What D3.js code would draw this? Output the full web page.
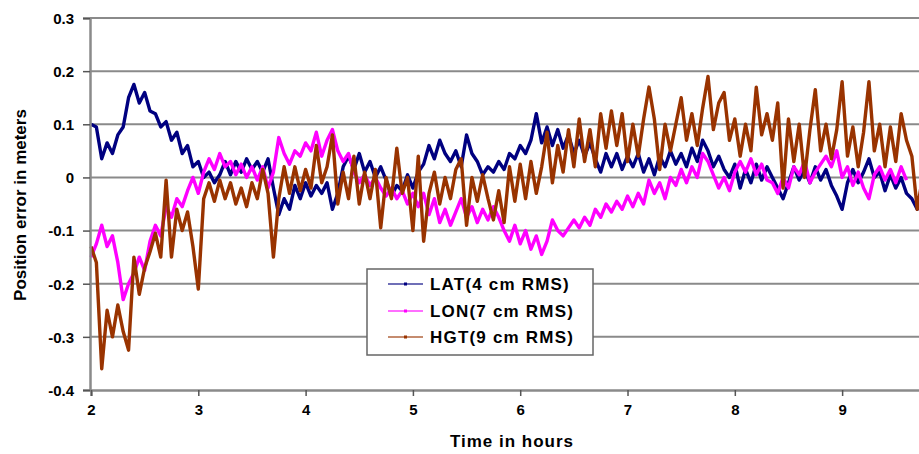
<!DOCTYPE html>
<html>
<head>
<meta charset="utf-8">
<script src="https://cdn.jsdelivr.net/npm/d3@7"></script>
<style>
  html, body { margin: 0; padding: 0; background: #fff; }
  svg { display: block; }
  text { font-family: Arial, "Liberation Sans", sans-serif; font-weight: bold; fill: #000; }
</style>
</head>
<body>
<script>
// Sampling: one reading every 0.05 h starting at 2 h
const startHour = 2;
const stepHour = 0.05;

const xTicks = [2, 3, 4, 5, 6, 7, 8, 9];
const yTicks = [-0.4, -0.3, -0.2, -0.1, 0, 0.1, 0.2, 0.3];
const yTickLabels = ["-0.4", "-0.3", "-0.2", "-0.1", "0", "0.1", "0.2", "0.3"];

const seriesNames = ["LAT(4 cm RMS)", "LON(7 cm RMS)", "HGT(9 cm RMS)"];
const seriesColors = ["#000080", "#ff00ff", "#993300"];

// Position error (m)
const lat = [
  0.100,0.095,0.035,0.065,0.045,0.080,0.095,0.150,0.175,0.140,
  0.160,0.125,0.120,0.095,0.105,0.070,0.085,0.045,0.060,0.020,
  0.030,0.000,0.010,-0.010,0.005,0.030,0.005,0.030,0.010,0.035,
  0.015,0.030,0.010,0.035,-0.020,-0.070,-0.040,-0.060,-0.015,-0.040,
  -0.010,-0.035,-0.015,-0.030,-0.010,-0.060,-0.030,0.020,0.040,0.015,
  0.045,0.010,0.030,0.000,0.020,-0.005,-0.035,-0.015,-0.025,0.005,
  -0.020,0.010,0.025,0.060,0.035,0.070,0.045,0.030,0.050,0.020,
  0.080,0.045,0.030,0.005,0.020,0.010,0.030,0.015,0.045,0.035,
  0.060,0.045,0.070,0.120,0.065,0.095,0.060,0.090,0.055,0.080,
  0.045,0.070,0.040,0.065,0.035,0.010,0.045,0.020,0.045,0.015,
  0.040,0.020,0.045,0.010,0.035,0.005,0.040,0.020,0.050,0.025,
  0.045,0.020,0.055,0.030,0.070,0.050,0.020,0.040,0.015,0.000,
  0.025,-0.020,0.015,-0.010,0.025,-0.005,0.020,0.000,-0.020,-0.040,
  -0.010,0.020,-0.005,0.015,-0.010,0.020,-0.005,0.015,-0.015,-0.035,
  -0.060,-0.010,0.015,-0.010,0.010,0.035,0.000,0.010,-0.025,0.005,
  -0.020,0.000,-0.030,-0.040,-0.060,-0.045
];

const lon = [
  -0.150,-0.125,-0.090,-0.130,-0.110,-0.160,-0.230,-0.200,-0.180,-0.150,
  -0.175,-0.120,-0.090,-0.110,-0.055,-0.075,-0.040,-0.055,-0.025,0.000,
  -0.030,0.010,0.035,0.015,0.045,0.020,0.030,0.005,0.025,0.000,
  0.020,-0.005,0.020,-0.020,0.010,0.075,0.045,0.025,0.050,0.040,
  0.065,0.050,0.085,0.040,0.070,0.090,0.050,0.030,0.045,0.010,
  -0.010,0.005,-0.015,0.000,-0.020,-0.035,-0.020,-0.040,-0.025,-0.050,
  -0.030,-0.055,-0.030,-0.070,-0.040,-0.085,-0.060,-0.090,-0.065,-0.040,
  -0.075,-0.055,-0.085,-0.060,-0.080,-0.055,-0.075,-0.100,-0.120,-0.090,
  -0.125,-0.100,-0.135,-0.110,-0.145,-0.120,-0.080,-0.100,-0.110,-0.095,
  -0.080,-0.095,-0.075,-0.090,-0.060,-0.075,-0.050,-0.065,-0.045,-0.060,
  -0.035,-0.055,-0.030,-0.050,-0.005,-0.030,-0.010,-0.040,0.000,-0.015,
  0.015,-0.010,0.020,0.000,0.045,0.030,0.005,-0.020,0.000,-0.025,
  0.010,0.030,0.010,0.035,0.005,0.025,-0.005,-0.010,-0.030,0.000,
  -0.020,0.020,0.005,0.030,-0.010,0.010,0.025,0.040,0.020,0.050,
  0.000,0.020,-0.015,0.010,-0.020,-0.040,0.005,0.020,-0.005,0.015,
  -0.010,0.020,-0.005
];

const hgt = [
  -0.130,-0.160,-0.360,-0.250,-0.300,-0.240,-0.290,-0.325,-0.150,-0.220,
  -0.170,-0.140,-0.105,-0.150,-0.005,-0.150,-0.060,-0.100,-0.065,-0.130,
  -0.210,-0.040,-0.010,-0.045,-0.005,-0.040,-0.010,-0.050,-0.020,-0.055,
  -0.010,-0.040,0.015,-0.030,-0.150,-0.040,0.020,-0.030,0.020,-0.025,
  0.015,-0.020,0.060,-0.010,0.020,0.080,-0.050,0.010,-0.040,0.040,
  -0.050,0.010,-0.040,0.015,-0.095,0.000,-0.040,0.055,-0.030,0.000,
  -0.100,0.040,-0.120,-0.030,0.010,-0.050,0.000,-0.040,0.015,0.035,
  -0.090,0.000,-0.045,0.005,-0.040,-0.080,-0.025,-0.085,0.020,-0.045,
  0.025,-0.040,0.030,-0.030,0.020,0.085,-0.010,0.060,0.010,0.090,
  0.020,0.110,0.030,0.090,0.020,0.120,0.055,0.125,0.060,0.120,
  0.030,0.100,0.040,0.110,0.170,0.110,0.015,0.100,0.050,0.100,
  0.150,0.070,0.120,0.060,0.130,0.190,0.090,0.140,0.160,0.070,
  0.110,0.040,0.100,0.050,0.170,0.080,0.120,0.070,0.140,-0.020,
  0.110,0.030,0.100,0.000,0.090,0.165,0.050,0.100,0.035,0.090,
  0.180,0.040,0.095,0.020,0.085,0.180,0.050,0.100,0.020,0.095,
  0.030,0.120,0.070,0.040,-0.060,0.000
];

const seriesValues = [lat, lon, hgt];

const W = 919, H = 454;
const svg = d3.select("body").append("svg").attr("width", W).attr("height", H);

const x = d3.scaleLinear().domain([2, 9.75]).range([91, 922.6]);
const y = d3.scaleLinear().domain([-0.4, 0.3]).range([390, 18]);
const plotLeft = 90, plotRight = W;

// horizontal gridlines
svg.append("g").selectAll("line")
  .data(yTicks.filter(v => v > -0.4))
  .join("line")
  .attr("x1", plotLeft).attr("x2", plotRight)
  .attr("y1", d => y(d)).attr("y2", d => y(d))
  .attr("stroke", "#8a8a8a").attr("stroke-width", 2);

// series
const line = d3.line()
  .x((d, i) => x(startHour + i * stepHour))
  .y(d => y(d));

svg.append("g").selectAll("path")
  .data(seriesValues)
  .join("path")
  .attr("d", d => line(d))
  .attr("fill", "none")
  .attr("stroke", (d, i) => seriesColors[i])
  .attr("stroke-width", 3.4)
  .attr("stroke-linejoin", "round");

// axes
const yAxis = d3.axisLeft(y).tickValues(yTicks).tickSize(7)
  .tickFormat((d, i) => yTickLabels[i]);
const gy = svg.append("g").attr("transform", `translate(${plotLeft},0)`).call(yAxis);
gy.select(".domain").attr("stroke", "#8a8a8a").attr("stroke-width", 2.5);
gy.selectAll(".tick line").attr("stroke", "#555").attr("stroke-width", 1.5);
gy.selectAll(".tick text").attr("x", -16).attr("dy", "0.36em")
  .style("font-size", "15px").style("font-family", "Arial, 'Liberation Sans', sans-serif")
  .style("font-weight", "bold");

const xAxis = d3.axisBottom(x).tickValues(xTicks).tickSize(6).tickFormat(d3.format("d"));
const gx = svg.append("g").attr("transform", `translate(0,390)`).call(xAxis);
gx.select(".domain").attr("stroke", "#8a8a8a").attr("stroke-width", 2.5);
gx.selectAll(".tick line").attr("stroke", "#555").attr("stroke-width", 1.5);
gx.selectAll(".tick text").attr("y", 14)
  .style("font-size", "15px").style("font-family", "Arial, 'Liberation Sans', sans-serif")
  .style("font-weight", "bold");

// axis titles
svg.append("text")
  .attr("x", 512).attr("y", 447)
  .attr("text-anchor", "middle")
  .style("font-size", "17px").style("letter-spacing", "1px")
  .text("Time in hours");

svg.append("text")
  .attr("transform", "translate(26,205) rotate(-90)")
  .attr("text-anchor", "middle")
  .style("font-size", "17px")
  .text("Position error in meters");

// legend
const lg = svg.append("g");
lg.append("rect")
  .attr("x", 367).attr("y", 269).attr("width", 226).attr("height", 86)
  .attr("fill", "#fff").attr("stroke", "#666").attr("stroke-width", 1.5);
const rowY = [284, 311, 337];
seriesNames.forEach((name, i) => {
  lg.append("line")
    .attr("x1", 388).attr("x2", 423).attr("y1", rowY[i]).attr("y2", rowY[i])
    .attr("stroke", seriesColors[i]).attr("stroke-width", 1.5).attr("opacity", 0.75);
  lg.append("rect")
    .attr("x", 404).attr("y", rowY[i] - 1.5).attr("width", 3).attr("height", 3)
    .attr("fill", seriesColors[i]);
  lg.append("text")
    .attr("x", 430).attr("y", rowY[i]).attr("dy", "0.36em")
    .style("font-size", "17px").style("letter-spacing", "1.2px")
    .text(name);
});
</script>
</body>
</html>
